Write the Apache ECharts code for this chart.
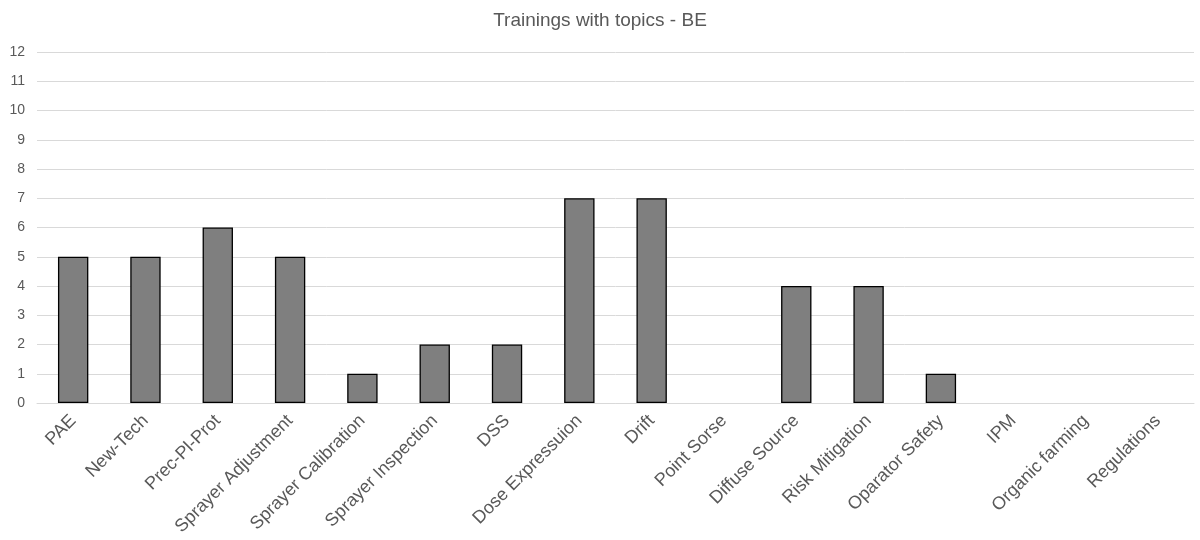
<!DOCTYPE html>
<html>
<head>
<meta charset="utf-8">
<script src="https://cdn.jsdelivr.net/npm/echarts@6/dist/echarts.min.js"></script>
<style>
  html, body { margin: 0; padding: 0; background: #fff; }
  #chart { width: 1200px; height: 540px; }
</style>
</head>
<body>
<div id="chart"></div>
<script>
// Training topics and how many trainings covered each one
const topics = [
  'PAE', 'New-Tech', 'Prec-Pl-Prot', 'Sprayer Adjustment', 'Sprayer Calibration',
  'Sprayer Inspection', 'DSS', 'Dose Expressuion', 'Drift', 'Point Sorse',
  'Diffuse Source', 'Risk Mitigation', 'Oparator Safety', 'IPM', 'Organic farming',
  'Regulations'
];
const trainings = [5, 5, 6, 5, 1, 2, 2, 7, 7, 0, 4, 4, 1, 0, 0, 0];

const yMin = 0;
const yMax = 12;
const yStep = 1;

// Empty topics keep their value but get no outline, so no flat sliver is drawn
const barData = trainings.map(v => (
  v === 0 ? { value: v, itemStyle: { borderWidth: 0, opacity: 0 } } : v
));

const chart = echarts.init(document.getElementById('chart'));
chart.setOption({
  animation: false,
  title: {
    text: 'Trainings with topics - BE',
    left: 'center',
    top: 6,
    textStyle: { fontFamily: 'Liberation Sans', fontSize: 19, fontWeight: 'normal', color: '#595959' }
  },
  grid: { left: 37, right: 6, top: 52, bottom: 137 },
  xAxis: {
    type: 'category',
    data: topics,
    axisLine: { lineStyle: { color: '#d9d9d9', width: 1 } },
    axisTick: { show: false },
    axisLabel: {
      rotate: 45,
      interval: 0,
      margin: 15,
      fontFamily: 'Liberation Sans',
      fontSize: 18,
      color: '#595959'
    }
  },
  yAxis: {
    type: 'value',
    min: yMin,
    max: yMax,
    interval: yStep,
    axisLine: { show: false },
    axisTick: { show: false },
    axisLabel: { fontFamily: 'Liberation Sans', fontSize: 14, color: '#595959', margin: 12 },
    splitLine: { lineStyle: { color: '#d9d9d9', width: 1 } }
  },
  series: [{
    type: 'bar',
    data: barData,
    barWidth: '42%',
    itemStyle: { color: '#7f7f7f', borderColor: '#000000', borderWidth: 1.3 }
  }]
});
</script>
</body>
</html>
